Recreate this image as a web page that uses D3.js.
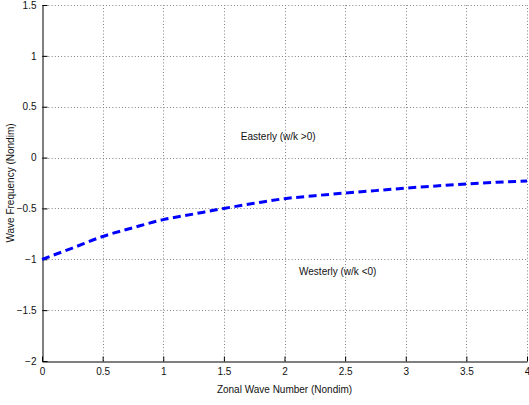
<!DOCTYPE html>
<html>
<head>
<meta charset="utf-8">
<script src="https://cdn.jsdelivr.net/npm/d3@7"></script>
<style>
  html, body { margin: 0; padding: 0; background: #fff; }
  svg { display: block; font-family: "Liberation Sans", Arial, Helvetica, sans-serif; }
</style>
</head>
<body>
<svg id="chart" width="529" height="405"></svg>
<script>
// Dispersion curve: zonal wave number vs. wave frequency (non-dimensional)
const waveNumber = [0, 0.25, 0.5, 0.75, 1, 1.25, 1.5, 1.75, 2, 2.25, 2.5, 2.75, 3, 3.25, 3.5, 3.75, 4];
const frequency  = [-1, -0.89, -0.776, -0.69, -0.61, -0.555, -0.5, -0.45, -0.404, -0.375, -0.348, -0.325, -0.3, -0.279, -0.26, -0.243, -0.23];

const xTicks = [0, 0.5, 1, 1.5, 2, 2.5, 3, 3.5, 4];
const yTicks = [-2, -1.5, -1, -0.5, 0, 0.5, 1, 1.5];

const labels = [
  { text: "Easterly (w/k >0)", x: 1.64, y: 0.2 },
  { text: "Westerly (w/k <0)", x: 2.12, y: -1.13 }
];

const svg = d3.select("#chart");
const margin = { left: 42, right: 2, top: 5, bottom: 44 };
const W = 529, H = 405;

const x = d3.scaleLinear().domain([0, 4]).range([margin.left, W - margin.right]);
const y = d3.scaleLinear().domain([-2, 1.5]).range([H - margin.bottom, margin.top]);

const fmt = v => (v < 0 ? "\u2212" : "") + String(Math.abs(v));

// dotted grid
const grid = svg.append("g").attr("stroke", "#808080").attr("stroke-width", 1).attr("stroke-dasharray", "1,2.2");
grid.selectAll("line.gx").data(xTicks.filter(d => d > 0)).join("line")
  .attr("x1", d => Math.round(x(d)) + 0.5).attr("x2", d => Math.round(x(d)) + 0.5)
  .attr("y1", y(-2)).attr("y2", y(1.5));
grid.selectAll("line.gy").data(yTicks.filter(d => d > -2)).join("line")
  .attr("y1", d => Math.round(y(d)) + 0.5).attr("y2", d => Math.round(y(d)) + 0.5)
  .attr("x1", x(0)).attr("x2", x(4));

// axes with inward ticks
const xAxis = d3.axisBottom(x).tickValues(xTicks).tickFormat(fmt).tickSizeInner(-5).tickSizeOuter(0).tickPadding(6);
const yAxis = d3.axisLeft(y).tickValues(yTicks).tickFormat(fmt).tickSizeInner(-5).tickSizeOuter(0).tickPadding(5);

const gx = svg.append("g").attr("transform", `translate(0,${Math.round(y(-2)) + 0.5})`).call(xAxis);
const gy = svg.append("g").attr("transform", `translate(${Math.round(x(0)) + 0.5},0)`).call(yAxis);
[gx, gy].forEach(g => {
  g.selectAll("path").attr("stroke", "#000");
  g.selectAll("line").attr("stroke", "#000");
  g.selectAll("text").attr("font-size", 10).attr("fill", "#111")
    .attr("font-family", "'Liberation Sans', Arial, sans-serif");
});
gy.selectAll("text").attr("dx", "-1");

// dispersion curve
const pts = waveNumber.map((k, i) => [k, frequency[i]]);
svg.append("path")
  .datum(pts)
  .attr("fill", "none")
  .attr("stroke", "#0000ff")
  .attr("stroke-width", 3)
  .attr("stroke-dasharray", "8,4.5")
  .attr("d", d3.line().x(d => x(d[0])).y(d => y(d[1])).curve(d3.curveMonotoneX));

// region annotations
svg.selectAll("text.note").data(labels).join("text")
  .attr("class", "note")
  .attr("x", d => x(d.x)).attr("y", d => y(d.y))
  .attr("font-size", 10).attr("fill", "#111")
  .attr("dominant-baseline", "middle")
  .text(d => d.text);

// axis titles
svg.append("text")
  .attr("x", (x(0) + x(4)) / 2).attr("y", 393)
  .attr("text-anchor", "middle").attr("font-size", 10).attr("fill", "#111")
  .text("Zonal Wave Number (Nondim)");
svg.append("text")
  .attr("transform", `translate(14,${(y(-2) + y(1.5)) / 2}) rotate(-90)`)
  .attr("text-anchor", "middle").attr("font-size", 10).attr("fill", "#111")
  .text("Wave Frequency (Nondim)");
</script>
</body>
</html>
